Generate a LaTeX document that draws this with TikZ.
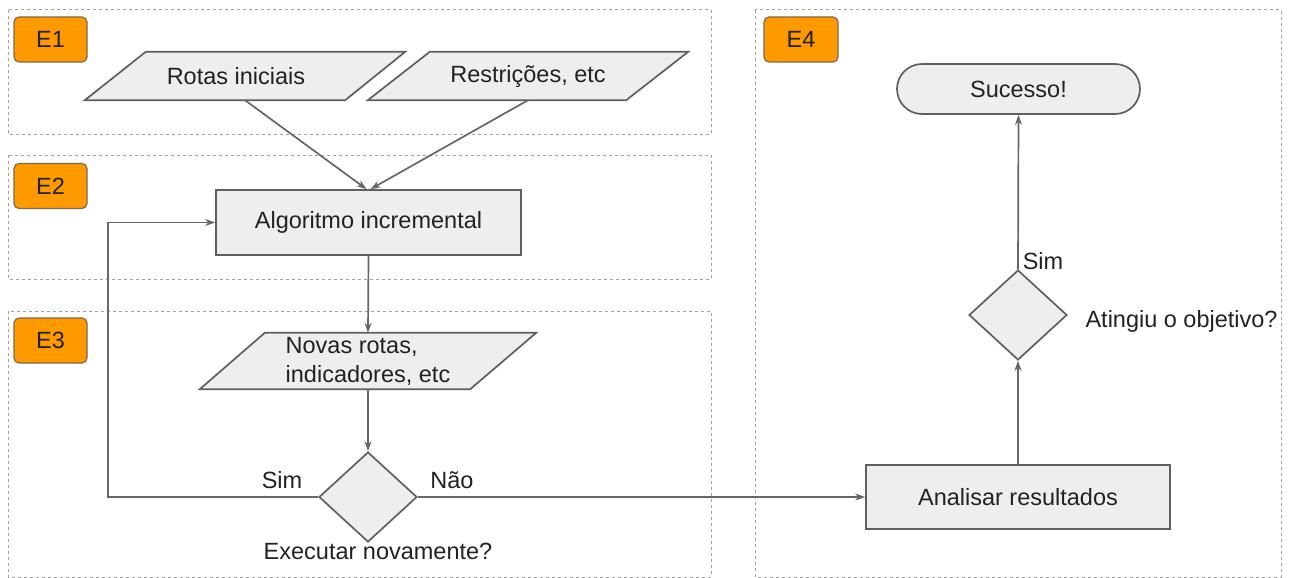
\documentclass[tikz,border=0pt]{standalone}
\usepackage{fontspec}
\setmainfont{Liberation Sans}
\usetikzlibrary{arrows.meta,shapes.geometric,backgrounds}
\definecolor{boxfill}{HTML}{EEEEEE}
\definecolor{boxline}{HTML}{5F5F5F}
\definecolor{wire}{HTML}{666666}
\definecolor{tagfill}{HTML}{FF9900}
\definecolor{tagline}{HTML}{7F6A4A}
\definecolor{frameline}{HTML}{A0A0A0}
\definecolor{ink}{HTML}{222222}
\begin{document}
\begin{tikzpicture}[x=1pt,y=-1pt,
  every node/.style={font=\fontsize{23.5}{29}\selectfont, text=ink},
  stage/.style={draw=frameline, line width=1pt, dash pattern=on 3pt off 3pt},
  tag/.style={draw=tagline, fill=tagfill, rounded corners=5pt, line width=1.2pt,
    minimum width=73pt, minimum height=45pt, inner sep=0pt},
  process/.style={draw=boxline, fill=boxfill, line width=1.7pt, inner sep=0pt},
  iobody/.style={inner sep=0pt},
  ioline/.style={draw=boxline, fill=boxfill, line width=1.7pt, line join=miter},
  decision/.style={diamond, draw=boxline, fill=boxfill, line width=1.7pt,
    minimum width=98pt, minimum height=90pt, inner sep=0pt},
  terminal/.style={draw=boxline, fill=boxfill, line width=1.7pt, rounded corners=25pt,
    minimum width=243pt, minimum height=50pt, inner sep=0pt},
  flow/.style={draw=wire, line width=1.7pt, -{Stealth[length=10pt,width=7pt]}},
]
% page area
\useasboundingbox (0,0) rectangle (1296,578);

% stage frames
\draw[stage] (8,10) rectangle (711,134);
\draw[stage] (8,155) rectangle (711,279);
\draw[stage] (8,311) rectangle (711,577);
\draw[stage] (755,10) rectangle (1281,577);

% stage tags
\node[tag] (e1) at (50.5,39.5) {E1};
\node[tag] (e2) at (50.5,186) {E2};
\node[tag] (e3) at (50.5,340.5) {E3};
\node[tag, minimum width=74pt] (e4) at (801,39.5) {E4};

% E1: inputs (data blocks; their slanted outlines go on the background layer)
\node[iobody, minimum width=320pt, minimum height=48pt] (rotas) at (245,76)
  {Rotas iniciais\hspace*{18pt}};
\node[iobody, minimum width=320pt, minimum height=48pt] (restr) at (528,76)
  {Restrições, etc};

% E2: algorithm
\node[process, minimum width=305pt, minimum height=65pt] (alg) at (368.5,222.5) {Algoritmo incremental};

% E3: outputs and decision
\node[iobody, minimum width=336pt, minimum height=56pt, align=left] (novas) at (368,361)
  {Novas rotas,\\indicadores, etc};
\node[decision] (dec1) at (368,497) {};
\node (sim1) at (282,480) {Sim};
\node (nao) at (452,480) {Não};
\node (exec) at (378,551) {Executar novamente?};
\coordinate (loopc) at (108,497);

% E4: analysis
\node[process, minimum width=304pt, minimum height=64pt] (ana) at (1018,497) {Analisar resultados};
\node[decision] (dec2) at (1018,315) {};
\node[anchor=west] (ating) at (1082,321) {Atingiu o objetivo?};
\node (sim2) at (1043,261) {Sim};
\node[terminal] (suc) at (1018.5,89) {Sucesso!};

% parallelogram outlines behind the data texts
\begin{scope}[on background layer]
  \fill[white] (0,0) rectangle (1296,578);
  \draw[ioline] (rotas.south west) -- ([xshift=-60pt]rotas.south east)
    -- (rotas.north east) -- ([xshift=61pt]rotas.north west) -- cycle;
  \draw[ioline] (restr.south west) -- ([xshift=-62pt]restr.south east)
    -- (restr.north east) -- ([xshift=62pt]restr.north west) -- cycle;
  \draw[ioline] (novas.south west) -- ([xshift=-66pt]novas.south east)
    -- (novas.north east) -- ([xshift=65pt]novas.north west) -- cycle;
\end{scope}

% connectors
\draw[flow] (rotas.south) -- ([xshift=-2pt]alg.north);
\draw[flow] (restr.south) -- ([xshift=2pt]alg.north);
\draw[flow] (alg.south) -- (novas.north);
\draw[flow] (novas.south) -- (dec1.north);
\draw[flow] (dec1.west) -- (loopc) |- (alg.west);
\draw[flow] (dec1.east) -- (ana.west);
\draw[flow] (ana.north) -- (dec2.south);
\draw[flow] (dec2.north) -- (suc.south);
\end{tikzpicture}
\end{document}
